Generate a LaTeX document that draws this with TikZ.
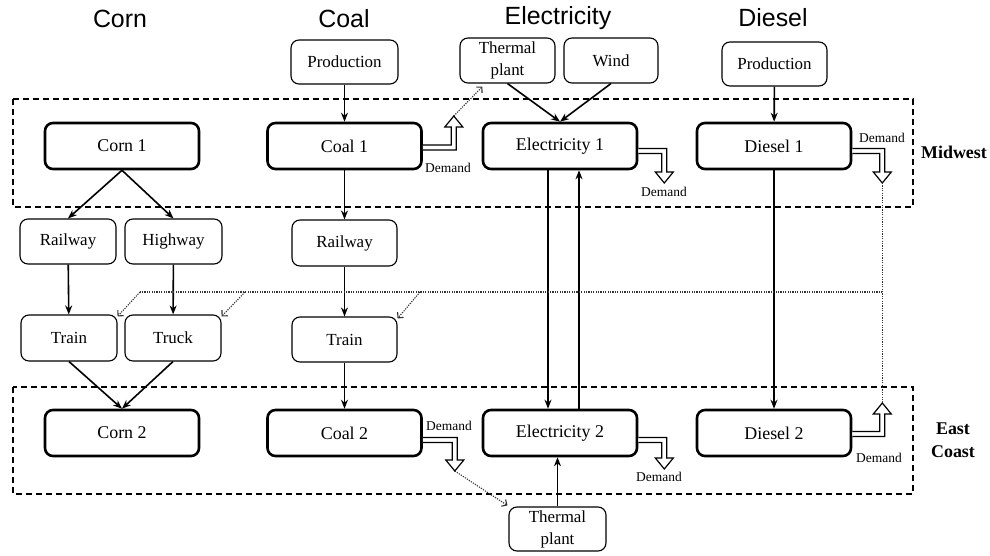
\documentclass[tikz,border=0pt]{standalone}
\usepackage{fontspec}
\setmainfont{Liberation Serif}
\newfontfamily\boxfont{Liberation Serif}
\newfontfamily\titlefont{Liberation Sans}
\usetikzlibrary{arrows.meta,calc}

\tikzset{
  bigbox/.style={draw, line width=2.6bp, rounded corners=8bp, minimum width=154bp,
    minimum height=46bp, inner sep=0pt, font=\boxfont\fontsize{18}{20}\selectfont},
  smallbox/.style={draw, line width=1.1bp, rounded corners=8bp, minimum width=96bp,
    minimum height=45bp, inner sep=0pt, align=center, font=\boxfont\fontsize{17}{22}\selectfont},
  region/.style={draw, line width=1.2bp, dash pattern=on 6bp off 4bp},
  flow/.style={line width=1.6bp, -{Stealth[length=9bp,width=7bp]}},
  demandline/.style={line width=1.2bp, fill=white, line join=miter},
  link/.style={line width=1.1bp, dash pattern=on 1.2bp off 1.2bp, black!80},
  linkarrow/.style={link, -{Straight Barb[length=4bp,width=8bp]}},
  title/.style={font=\titlefont\fontsize{25}{28}\selectfont},
  dlabel/.style={font=\boxfont\fontsize{13.5}{15}\selectfont, inner sep=0pt},
  zone/.style={font=\boxfont\bfseries\fontsize{18}{23}\selectfont, align=center, inner sep=0pt}
}

% Hollow "demand" arrow: leaves a point horizontally, then turns up or down.
% #1 start point, #2 horizontal run to the shaft axis, #3 vertical offset of the tip,
% #4 = 1 for a downward tip, -1 for an upward tip, #5 name of the tip coordinate
\newcommand\demandarrow[5]{%
  \draw[demandline, shift={(#1)}]
    (0,{-#4*2.5}) -- ({#2+2.5},{-#4*2.5}) -- ({#2+2.5},{#3-#4*11})
    -- ({#2+9},{#3-#4*11}) -- (#2,#3) coordinate (#5) -- ({#2-9},{#3-#4*11})
    -- ({#2-2.5},{#3-#4*11}) -- ({#2-2.5},{#4*2.5}) -- (0,{#4*2.5});
}

\begin{document}
\begin{tikzpicture}[x=1bp, y=-1bp]
\useasboundingbox (0,0) rectangle (990,556);

% regions
\draw[region] (13,99) rectangle (913,207);
\draw[region] (13,387) rectangle (913,494);
\node[zone] (midwest) at (954,152) {Midwest};
\node[zone] (eastcoast) at (953,440) {East\\Coast};

% column titles
\node[title] (tcorn) at (120,19) {Corn};
\node[title] (tcoal) at (344,19) {Coal};
\node[title] (telec) at (558,18) {Electricity};
\node[title] (tdiesel) at (773,18) {Diesel};

% main nodes
\node[bigbox] (corn1) at (122,146) {Corn 1};
\node[bigbox] (coal1) at (344.5,146) {Coal 1};
\node[bigbox] (elec1) at (560,146) {Electricity 1};
\node[bigbox] (diesel1) at (774,146) {Diesel 1};
\node[bigbox] (corn2) at (122,433) {Corn 2};
\node[bigbox] (coal2) at (344.5,433) {Coal 2};
\node[bigbox] (elec2) at (560,433) {Electricity 2};
\node[bigbox] (diesel2) at (774,433) {Diesel 2};

% supply and transport nodes
\node[smallbox, minimum width=107bp, minimum height=44bp] (prodcoal) at (344.5,62) {Production};
\node[smallbox, minimum width=95bp] (ttop) at (507.5,60.5) {Thermal\\plant};
\node[smallbox, minimum width=94bp] (wind) at (611,60.5) {Wind};
\node[smallbox, minimum width=105bp, minimum height=44bp] (proddiesel) at (774.5,64) {Production};
\node[smallbox] (railcorn) at (68,241.5) {Railway};
\node[smallbox, minimum width=97bp] (highway) at (173.5,241.5) {Highway};
\node[smallbox, minimum width=105bp, minimum height=46bp] (railcoal) at (344.5,243) {Railway};
\node[smallbox, minimum height=46bp] (traincorn) at (69,338) {Train};
\node[smallbox, minimum height=46bp] (truck) at (173,338) {Truck};
\node[smallbox, minimum width=105bp] (traincoal) at (344.5,339.5) {Train};
\node[smallbox, minimum width=97bp, minimum height=44bp] (tbot) at (557.5,529) {Thermal\\plant};

% corn flows
\draw[flow] (corn1.south) -- (railcorn.north);
\draw[flow] (corn1.south) -- (highway.north);
\draw[flow] (railcorn) -- (traincorn);
\draw[flow] (highway) -- (truck);
\draw[flow] (traincorn.south) -- (corn2.north);
\draw[flow] (truck.south) -- (corn2.north);

% coal flows
\draw[flow] (prodcoal) -- (coal1);
\draw[flow] (coal1) -- (railcoal);
\draw[flow] (railcoal) -- (traincoal);
\draw[flow] (traincoal) -- (coal2);

% electricity flows
\draw[flow] (ttop.south) -- (elec1.north);
\draw[flow] (wind.south) -- (elec1.north);
\draw[flow] ([xshift=-12bp]elec1.south) -- ([xshift=-12bp]elec2.north);
\draw[flow] ([xshift=19bp]elec2.north) -- ([xshift=19bp]elec1.south);
\draw[flow] (tbot.north) -- (tbot.north |- elec2.south);

% diesel flows
\draw[flow] (proddiesel) -- (diesel1);
\draw[flow] (diesel1) -- (diesel2);

% demand arrows
\demandarrow{[yshift=-1.5bp]coal1.east}{31}{-31.5}{-1}{dcoal1}
\demandarrow{[yshift=-5bp]elec1.east}{26}{32}{1}{delec1}
\demandarrow{[yshift=-5bp]diesel1.east}{30}{32}{1}{ddiesel1}
\demandarrow{[yshift=-7bp]coal2.east}{32}{31}{1}{dcoal2}
\demandarrow{[yshift=-7bp]elec2.east}{26}{29}{1}{delec2}
\demandarrow{[yshift=-1bp]diesel2.east}{30}{-31}{-1}{ddiesel2}

\node[dlabel] (lcoal1) at (448,168) {Demand};
\node[dlabel] (lelec1) at (664,192) {Demand};
\node[dlabel] (ldiesel1) at (882,138) {Demand};
\node[dlabel] (lcoal2) at (449,426) {Demand};
\node[dlabel] (lelec2) at (659,477) {Demand};
\node[dlabel] (ldiesel2) at (879,458) {Demand};

% dotted links between demands and supply
\draw[linkarrow] (dcoal1) -- ([xshift=23bp,yshift=-3bp]ttop.south west);
\draw[linkarrow] (dcoal2) -- ([xshift=-1bp,yshift=1bp]tbot.north west);
\draw[link] (ddiesel1) -- (ddiesel2);
\coordinate (jcorn) at (140,292);
\coordinate (jtruck) at (245,292);
\coordinate (jcoal) at (420,292);
\draw[link] (ddiesel1 |- jcorn) -- (jcorn);
\draw[linkarrow] (jcorn) -- ([yshift=-2bp]traincorn.north east);
\draw[linkarrow] (jtruck) -- ([yshift=-2bp]truck.north east);
\draw[linkarrow] (jcoal) -- ([yshift=-2bp]traincoal.north east);
\end{tikzpicture}
\end{document}
